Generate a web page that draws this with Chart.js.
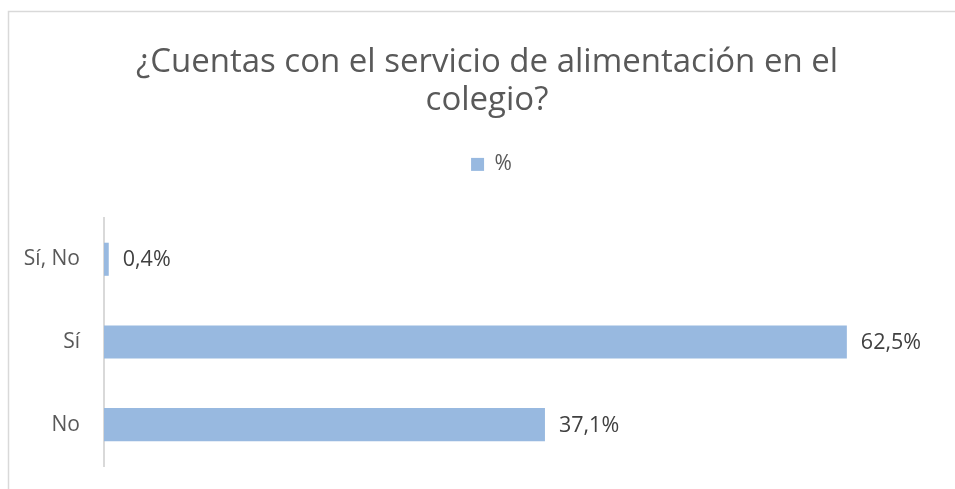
<!DOCTYPE html>
<html>
<head>
<meta charset="utf-8">
<script src="https://cdn.jsdelivr.net/npm/chart.js@4"></script>
<style>
  html, body { margin: 0; padding: 0; background: #fff; }
  canvas { display: block; }
</style>
</head>
<body>
<canvas id="chart" width="955" height="489"></canvas>
<script>
// chart data
const categories = ['Sí, No', 'Sí', 'No'];
const percentValues = [0.4, 62.5, 37.1];
const seriesName = '%';
const titleLines = ['¿Cuentas con el servicio de alimentación en el', 'colegio?'];

const FONT = '"Open Sans", Lato, sans-serif';

// thin grey frame like the office chart area
const framePlugin = {
    id: 'frame',
    beforeDraw(chart) {
        const ctx = chart.ctx;
        ctx.save();
        ctx.fillStyle = '#fff';
        ctx.fillRect(0, 0, chart.width, chart.height);
        ctx.strokeStyle = '#d9d9d9';
        ctx.lineWidth = 1.5;
        ctx.strokeRect(8.5, 11.5, chart.width + 20, chart.height + 20);
        ctx.restore();
    }
};

// value labels at the end of each bar
const valueLabels = {
    id: 'valueLabels',
    afterDatasetsDraw(chart) {
        const ctx = chart.ctx;
        const meta = chart.getDatasetMeta(0);
        ctx.save();
        ctx.font = '21.5px ' + FONT;
        ctx.fillStyle = '#404040';
        ctx.textBaseline = 'middle';
        ctx.textAlign = 'left';
        meta.data.forEach((bar, i) => {
            const txt = percentValues[i].toFixed(1).replace('.', ',') + '%';
            ctx.fillText(txt, bar.x + 14, bar.y + 1);
        });
        ctx.restore();
    }
};

// extra space below the legend, and centre title/legend a bit further right
const headerTweaks = {
    id: 'headerTweaks',
    beforeInit(chart) {
        const fit = chart.legend.fit;
        chart.legend.fit = function () {
            fit.bind(chart.legend)();
            this.height += 33;
        };
    },
    afterLayout(chart) {
        chart.titleBlock.left += 29;
        chart.legend.left += 38;
    }
};

new Chart(document.getElementById('chart'), {
    type: 'bar',
    data: {
        labels: categories,
        datasets: [{
            label: seriesName,
            data: percentValues,
            backgroundColor: '#98b9e0',
            borderWidth: 0,
            barPercentage: 0.4,
            categoryPercentage: 1.0
        }]
    },
    options: {
        indexAxis: 'y',
        responsive: false,
        animation: false,
        layout: {
            padding: { left: 9, right: 19, top: 0, bottom: 23 }
        },
        scales: {
            x: {
                display: false,
                min: 0,
                max: 70
            },
            y: {
                grid: { display: false, drawTicks: false },
                border: { display: true, color: '#d9d9d9', width: 2 },
                ticks: {
                    color: '#595959',
                    font: { family: FONT, size: 21 },
                    padding: 24
                },
                afterFit(scale) {
                    scale.width = 95;
                    // no extra room above/below for the tick labels
                    scale.paddingTop = 0;
                    scale.paddingBottom = 0;
                }
            }
        },
        plugins: {
            title: {
                display: true,
                text: titleLines,
                color: '#595959',
                font: { family: FONT, size: 33, weight: 'normal', lineHeight: 1.15 },
                padding: { top: 44, bottom: 25 }
            },
            legend: {
                display: true,
                position: 'top',
                labels: {
                    color: '#595959',
                    font: { family: FONT, size: 21 },
                    boxWidth: 13,
                    boxHeight: 13,
                    padding: 9
                }
            },
            tooltip: { enabled: false }
        }
    },
    plugins: [framePlugin, valueLabels, headerTweaks]
});
</script>
</body>
</html>
